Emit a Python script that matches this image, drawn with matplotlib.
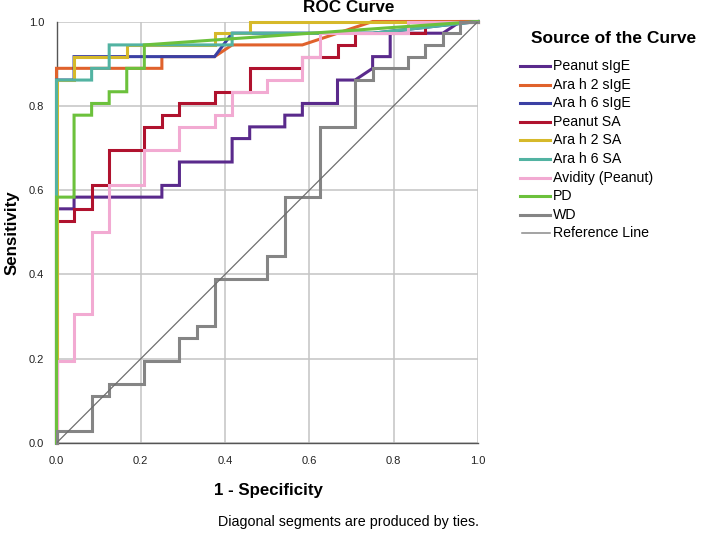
import matplotlib
matplotlib.use("Agg")
import matplotlib.pyplot as plt
from matplotlib.lines import Line2D
import numpy as np

plt.rcParams['font.family'] = ['Liberation Sans', 'DejaVu Sans']

N_NEG = 24  # negatives (x steps)
N_POS = 36  # positives (y steps)

series_names = ["Peanut sIgE", "Ara h 2 sIgE", "Ara h 6 sIgE", "Peanut SA", "Ara h 2 SA",
                "Ara h 6 SA", "Avidity (Peanut)", "PD", "WD"]
series_colors = ["#5a2a8c", "#e0622c", "#3b40a4", "#b0122e", "#d6b92a",
                 "#52b3a2", "#f2aad2", "#6cc13c", "#858585"]

# ROC vertices: false-positive counts (of 24) and true-positive counts (of 36)
peanut_sige_fp = [0, 0, 1, 1, 6, 6, 7, 7, 10, 10, 11, 11, 13, 13, 14, 14, 16, 16, 17, 18, 18, 19, 19, 22, 23, 24]
peanut_sige_tp = [0, 20, 20, 21, 21, 22, 22, 24, 24, 26, 26, 27, 27, 28, 28, 29, 29, 31, 31, 32, 33, 33, 35, 35, 36, 36]

ara2_sige_fp = [0, 0, 6, 6, 9, 10, 14, 18, 24]
ara2_sige_tp = [0, 32, 32, 33, 33, 34, 34, 36, 36]

ara6_sige_fp = [0, 0, 1, 1, 9, 10, 18, 24]
ara6_sige_tp = [0, 31, 31, 33, 33, 35, 35, 36]

peanut_sa_fp = [0, 0, 1, 1, 2, 2, 3, 3, 5, 5, 6, 6, 7, 7, 9, 9, 11, 11, 14, 14, 16, 16, 17, 17, 21, 21, 24]
peanut_sa_tp = [0, 19, 19, 20, 20, 22, 22, 25, 25, 27, 27, 28, 28, 29, 29, 30, 30, 32, 32, 33, 33, 34, 34, 35, 35, 36, 36]

ara2_sa_fp = [0, 0, 1, 1, 4, 4, 9, 9, 11, 11, 24]
ara2_sa_tp = [0, 31, 31, 33, 33, 34, 34, 35, 35, 36, 36]

ara6_sa_fp = [0, 0, 2, 2, 3, 3, 10, 10, 18, 24]
ara6_sa_tp = [0, 31, 31, 32, 32, 34, 34, 35, 35, 36]

avidity_fp = [0, 0, 1, 1, 2, 2, 3, 3, 5, 5, 7, 7, 9, 9, 10, 10, 12, 12, 14, 14, 15, 15, 20, 20, 24]
avidity_tp = [0, 7, 7, 11, 11, 18, 18, 22, 22, 25, 25, 27, 27, 28, 28, 30, 30, 31, 31, 33, 33, 35, 35, 36, 36]

pd_fp = [0, 0, 1, 1, 2, 2, 3, 3, 4, 4, 5, 5, 24]
pd_tp = [0, 21, 21, 28, 28, 29, 29, 30, 30, 32, 32, 34, 36]

wd_fp = [0, 0, 2, 2, 3, 3, 5, 5, 7, 7, 8, 8, 9, 9, 12, 12, 13, 13, 15, 15, 17, 17, 18, 18, 20, 20, 21, 21, 22, 22, 23, 23, 24]
wd_tp = [0, 1, 1, 4, 4, 5, 5, 7, 7, 9, 9, 10, 10, 14, 14, 16, 16, 21, 21, 27, 27, 31, 31, 32, 32, 33, 33, 34, 34, 35, 35, 36, 36]

series_fp = [peanut_sige_fp, ara2_sige_fp, ara6_sige_fp, peanut_sa_fp, ara2_sa_fp,
             ara6_sa_fp, avidity_fp, pd_fp, wd_fp]
series_tp = [peanut_sige_tp, ara2_sige_tp, ara6_sige_tp, peanut_sa_tp, ara2_sa_tp,
             ara6_sa_tp, avidity_tp, pd_tp, wd_tp]

tick_vals = [0.0, 0.2, 0.4, 0.6, 0.8, 1.0]
tick_labels = ["0.0", "0.2", "0.4", "0.6", "0.8", "1.0"]

W, H = 711, 534
fig = plt.figure(figsize=(W / 100, H / 100), dpi=100)
ax = fig.add_axes([56.5 / W, 1 - 443 / H, (478 - 56.5) / W, (443 - 21.5) / H])

ax.set_xlim(0, 1)
ax.set_ylim(0, 1)
ax.set_xticks(tick_vals)
ax.set_yticks(tick_vals)
ax.set_xticklabels(tick_labels)
ax.set_yticklabels(tick_labels)
ax.tick_params(length=0, labelsize=8, colors="#222222")
ax.tick_params(axis="x", pad=9)
ax.tick_params(axis="y", pad=9)
ax.grid(True, color="#c4c4c4", linewidth=1.1)
ax.set_axisbelow(True)
for s in ["top", "right"]:
    ax.spines[s].set_visible(False)
for s in ["left", "bottom"]:
    ax.spines[s].set_color("#555555")
    ax.spines[s].set_linewidth(1.0)

for name, col, fp, tp in zip(series_names, series_colors, series_fp, series_tp):
    ax.plot(np.array(fp) / N_NEG, np.array(tp) / N_POS, color=col, linewidth=2.2,
            solid_joinstyle="miter", clip_on=False, zorder=3)

ax.plot([0, 1], [0, 1], color="#6e6e6e", linewidth=0.9, zorder=4)

fig.text(349 / W, 1 - 8 / H, "ROC Curve", ha="center", va="center", fontsize=12.3, fontweight="bold")
fig.text(268 / W, 1 - 490 / H, "1 - Specificity", ha="center", va="center", fontsize=12.2, fontweight="bold")
fig.text(12 / W, 1 - 233 / H, "Sensitivity", ha="center", va="center", rotation=90,
         fontsize=12.2, fontweight="bold")
fig.text(348 / W, 1 - 522 / H, "Diagonal segments are produced by ties.", ha="center", va="center",
         fontsize=10.3)

# legend (drawn manually to match the reference layout)
fig.text(531 / W, 1 - 38.5 / H, "Source of the Curve", ha="left", va="center",
         fontsize=12.5, fontweight="bold")
legend_labels = series_names + ["Reference Line"]
legend_colors = series_colors + ["#8a8a8a"]
legend_widths = [2.2] * len(series_names) + [1.1]
y0, dy = 66.0, 18.6
for i, (lab, col, lw) in enumerate(zip(legend_labels, legend_colors, legend_widths)):
    yy = 1 - (y0 + i * dy) / H
    x1 = 520 if i < len(series_names) else 522
    fig.add_artist(Line2D([x1 / W, 550 / W], [yy, yy], color=col, linewidth=lw,
                          transform=fig.transFigure))
    fig.text(553 / W, yy, lab, ha="left", va="center", fontsize=10.2)

fig.savefig("out.png", dpi=100)
